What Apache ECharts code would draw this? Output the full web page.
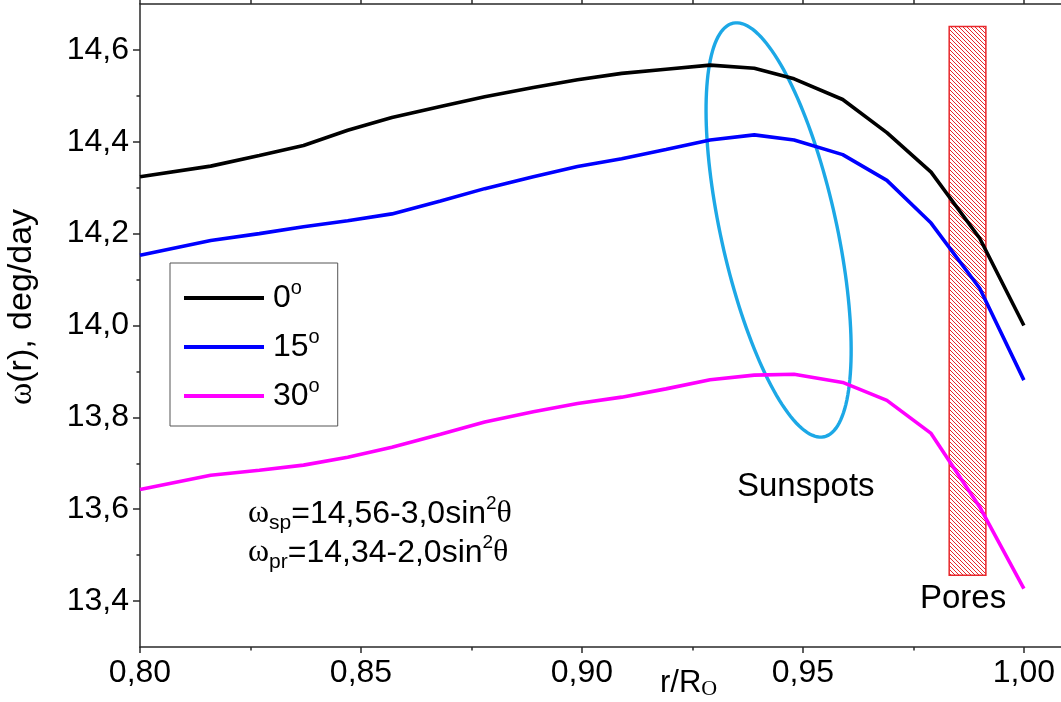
<!DOCTYPE html>
<html>
<head>
<meta charset="utf-8">
<script src="https://cdn.jsdelivr.net/npm/echarts@6/dist/echarts.min.js"></script>
<style>
  html, body { margin: 0; padding: 0; background: #ffffff; }
  #chart { width: 1061px; height: 702px; }
</style>
</head>
<body>
<div id="chart"></div>
<script>
// Relative radius r/R☉
const radius = [0.800, 0.816, 0.827, 0.837, 0.847, 0.857, 0.868, 0.878, 0.889, 0.899,
                0.909, 0.919, 0.929, 0.939, 0.948, 0.959, 0.969, 0.979, 0.990, 1.000];
// Angular velocity, deg/day, at three latitudes
const omega0  = [14.324, 14.347, 14.370, 14.392, 14.425, 14.453, 14.477, 14.498, 14.518, 14.535,
                 14.549, 14.558, 14.567, 14.560, 14.537, 14.492, 14.420, 14.334, 14.190, 14.000];
const omega15 = [14.153, 14.185, 14.200, 14.215, 14.228, 14.243, 14.271, 14.298, 14.324, 14.346,
                 14.363, 14.383, 14.404, 14.415, 14.404, 14.372, 14.316, 14.223, 14.081, 13.881];
const omega30 = [13.643, 13.674, 13.685, 13.696, 13.713, 13.735, 13.763, 13.790, 13.812, 13.830,
                 13.844, 13.862, 13.882, 13.892, 13.894, 13.876, 13.837, 13.765, 13.605, 13.427];
const latitudes = ['0', '15', '30'];
const lineColors = ['#000000', '#0000ff', '#ff00ff'];

// Axis ranges and tick values
const rRange = [0.80, 1.0084];
const omegaRange = [13.3, 14.7];
const rMajor = [0.80, 0.85, 0.90, 0.95, 1.00];
const rMinor = [0.825, 0.875, 0.925, 0.975];
const omegaMajor = [13.4, 13.6, 13.8, 14.0, 14.2, 14.4, 14.6];
const omegaMinor = [13.5, 13.7, 13.9, 14.1, 14.3, 14.5];

// Pores layer: r from, omega from, r to, omega to
const poresBand = [0.9831, 13.456, 0.9914, 14.651];
// Sunspot region: centre r, centre omega, half-width (r), half-height (omega), tilt in degrees
const sunspotZone = [0.9445, 14.208, 0.0131, 0.461, 12.4];

const formulaSp = ['sp', '14,56-3,0sin'];
const formulaPr = ['pr', '14,34-2,0sin'];

const SANS = '"Liberation Sans", Arial, Helvetica, sans-serif';
const SERIF = '"Liberation Serif", "Times New Roman", serif';
const AXIS = '#2a2a2a';

const comma = (v, d) => v.toFixed(d).replace('.', ',');

// diagonal hatch tile for the pores band
function hatchTile(size, color) {
  const c = document.createElement('canvas');
  c.width = size; c.height = size;
  const ctx = c.getContext('2d');
  ctx.strokeStyle = color;
  ctx.lineWidth = 1;
  ctx.beginPath();
  ctx.moveTo(0, 0); ctx.lineTo(size, size);
  ctx.moveTo(-1, size - 1); ctx.lineTo(1, size + 1);
  ctx.moveTo(size - 1, -1); ctx.lineTo(size + 1, 1);
  ctx.stroke();
  return c;
}
const RED = '#e8282c';
const hatch = hatchTile(4, RED);

const chart = echarts.init(document.getElementById('chart'), null, { renderer: 'canvas' });

const lineSeries = [omega0, omega15, omega30].map((vals, i) => ({
  name: latitudes[i],
  type: 'line',
  xAxisIndex: 0,
  yAxisIndex: 0,
  data: radius.map((r, j) => [r, vals[j]]),
  symbol: 'none',
  smooth: false,
  lineStyle: { color: lineColors[i], width: 3.6 },
  itemStyle: { color: lineColors[i] },
  z: 5
}));

const poresSeries = {
  type: 'custom',
  xAxisIndex: 0,
  yAxisIndex: 0,
  data: [poresBand],
  encode: { x: [0, 2], y: [1, 3] },
  silent: true,
  z: 2,
  renderItem(params, api) {
    const tl = api.coord([api.value(0), api.value(3)]);
    const br = api.coord([api.value(2), api.value(1)]);
    return {
      type: 'rect',
      shape: { x: tl[0], y: tl[1], width: br[0] - tl[0], height: br[1] - tl[1] },
      style: { fill: { image: hatch, repeat: 'repeat' }, stroke: RED, lineWidth: 1.5 }
    };
  }
};

const sunspotSeries = {
  type: 'custom',
  xAxisIndex: 0,
  yAxisIndex: 0,
  data: [sunspotZone],
  encode: { x: 0, y: 1 },
  silent: true,
  z: 4,
  renderItem(params, api) {
    const c = api.coord([api.value(0), api.value(1)]);
    const b = api.size([api.value(2), 0])[0];
    const a = api.size([0, api.value(3)])[1];
    const phi = api.value(4) * Math.PI / 180;
    const pts = [];
    const n = 160;
    for (let i = 0; i <= n; i++) {
      const t = i / n * Math.PI * 2;
      const ct = Math.cos(t), st = Math.sin(t);
      pts.push([
        c[0] + a * ct * Math.sin(phi) + b * st * Math.cos(phi),
        c[1] + a * ct * Math.cos(phi) - b * st * Math.sin(phi)
      ]);
    }
    return {
      type: 'polygon',
      shape: { points: pts },
      style: { fill: 'none', stroke: '#1ca8e6', lineWidth: 3.4 }
    };
  }
};

// one axis per tick family; all share the same range
function rAxis(position, ticks, len, showLine, label) {
  return {
    type: 'value',
    position: position,
    min: rRange[0],
    max: rRange[1],
    splitLine: { show: false },
    axisLine: { show: showLine, onZero: false, lineStyle: { color: AXIS, width: 1.5 } },
    axisTick: { show: true, inside: false, length: len, customValues: ticks, lineStyle: { color: AXIS, width: 1.5 } },
    minorTick: { show: false },
    axisLabel: label
      ? { show: true, customValues: ticks, margin: 10, fontSize: 32, fontFamily: SANS, color: '#000000',
          formatter: v => comma(v, 2) }
      : { show: false }
  };
}
function omegaAxis(ticks, len, showLine, label) {
  return {
    type: 'value',
    position: 'left',
    min: omegaRange[0],
    max: omegaRange[1],
    splitLine: { show: false },
    axisLine: { show: showLine, onZero: false, lineStyle: { color: AXIS, width: 1.5 } },
    axisTick: { show: true, inside: false, length: len, customValues: ticks, lineStyle: { color: AXIS, width: 1.5 } },
    minorTick: { show: false },
    axisLabel: label
      ? { show: true, customValues: ticks, margin: 11, fontSize: 32, fontFamily: SANS, color: '#000000',
          formatter: v => comma(v, 1) }
      : { show: false }
  };
}

const option = {
  animation: false,
  backgroundColor: '#ffffff',
  grid: { left: 140, top: 4, right: 0, bottom: 55, containLabel: false },
  xAxis: [
    rAxis('bottom', rMajor, 6, true, true),
    rAxis('bottom', rMinor, 3.5, false, false),
    rAxis('top', rMajor.concat(rMinor), 6, true, false)
  ],
  yAxis: [
    omegaAxis(omegaMajor, 7, true, true),
    omegaAxis(omegaMinor, 3.5, false, false)
  ],
  legend: {
    orient: 'vertical',
    left: 170,
    top: 263,
    data: latitudes,
    icon: 'rect',
    itemWidth: 80,
    itemHeight: 4,
    itemGap: 9,
    padding: [15, 18, 10, 14],
    borderColor: '#555555',
    borderWidth: 1,
    selectedMode: false,
    formatter: name => `{n|${name}}{s|o}`,
    textStyle: {
      fontSize: 32, fontFamily: SANS, color: '#000000', lineHeight: 40,
      rich: {
        n: { fontSize: 32, fontFamily: SANS, lineHeight: 40, padding: [0, 0, 0, 4] },
        s: { fontSize: 20, fontFamily: SANS, lineHeight: 20, verticalAlign: 'top' }
      }
    }
  },
  graphic: [
    {
      type: 'text', x: 22, y: 307, rotation: Math.PI / 2, silent: true,
      style: {
        text: '{w|ω}(r), deg/day',
        align: 'center', verticalAlign: 'middle',
        fontSize: 34, fontFamily: SANS, fill: '#000000',
        rich: { w: { fontSize: 34, fontFamily: SERIF, fill: '#000000' } }
      }
    },
    {
      type: 'text', left: 737, top: 470, silent: true,
      style: { text: 'Sunspots', fontSize: 33, fontFamily: SANS, fill: '#000000' }
    },
    {
      type: 'text', left: 920, top: 582, silent: true,
      style: { text: 'Pores', fontSize: 33, fontFamily: SANS, fill: '#000000' }
    },
    {
      type: 'text', left: 660, top: 668, silent: true,
      style: {
        text: '{m|r/R}{o|O}',
        rich: {
          m: { fontSize: 31, fontFamily: SANS, fill: '#000000', lineHeight: 34 },
          o: { fontSize: 22, fontFamily: SERIF, fill: '#000000', lineHeight: 24, verticalAlign: 'bottom' }
        }
      }
    },
    ...[[formulaSp, 494], [formulaPr, 533]].map(([f, top]) => ({
      type: 'text', left: 248, top: top, silent: true,
      style: {
        text: `{w|ω}{sub|${f[0]}}{t|=${f[1]}}{sup|2}{w|θ}`,
        rich: {
          w: { fontSize: 32, fontFamily: SERIF, fill: '#000000', lineHeight: 40, verticalAlign: 'middle' },
          sub: { fontSize: 21, fontFamily: SANS, fill: '#000000', lineHeight: 20, verticalAlign: 'bottom' },
          t: { fontSize: 32, fontFamily: SANS, fill: '#000000', lineHeight: 40, verticalAlign: 'middle' },
          sup: { fontSize: 19, fontFamily: SANS, fill: '#000000', lineHeight: 14, verticalAlign: 'top' }
        }
      }
    }))
  ],
  series: [poresSeries, sunspotSeries, ...lineSeries]
};

chart.setOption(option);
</script>
</body>
</html>
